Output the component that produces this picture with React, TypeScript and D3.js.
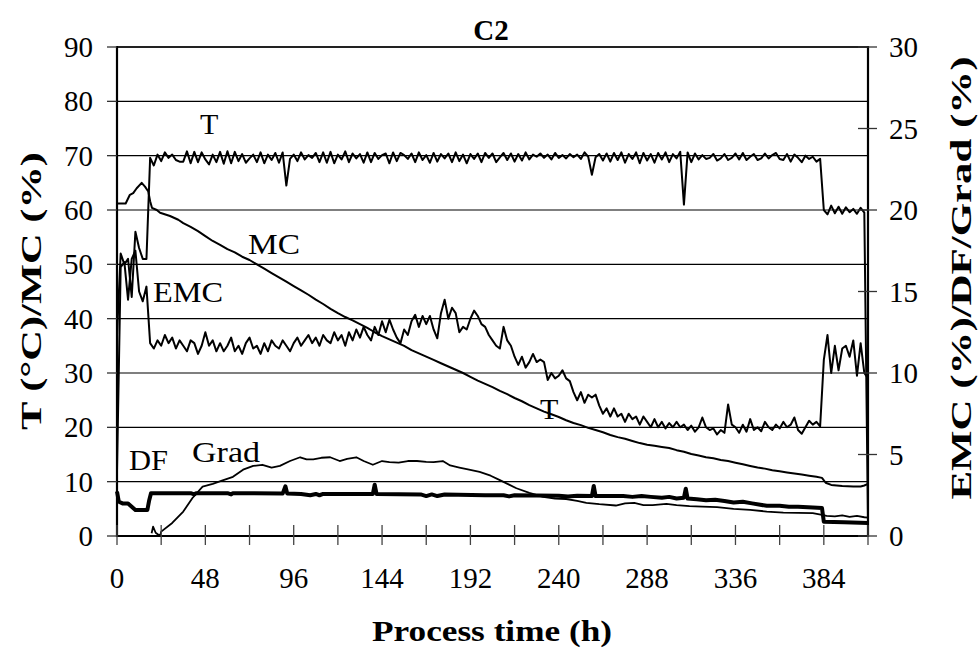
import React from 'react';
import * as d3 from 'd3';

// ---------- data ----------
const X_TICKS = [0, 24, 48, 72, 96, 120, 144, 168, 192, 216, 240, 264, 288, 312, 336, 360, 384, 408];
const X_LABELS = [0, 48, 96, 144, 192, 240, 288, 336, 384];
const LEFT_TICKS = [0, 10, 20, 30, 40, 50, 60, 70, 80, 90];
const RIGHT_TICKS = [0, 5, 10, 15, 20, 25, 30];
const GRID_VALUES = [10, 20, 30, 40, 50, 60, 70, 80];

// sampling interval (h) of the T and EMC records
const SAMPLE_STEP = 2;

// T (°C), left axis, sampled every 2 h from 0 h
const T_VALUES = [
  37, 52, 50, 51, 44, 56, 53, 51, 51, 69.6,
  68.2, 70.2, 69, 70.6, 69.6, 70.2, 69.2, 68.9, 68.9, 70.8,
  68.6, 70.7, 68.8, 70.6, 69.3, 68.4, 70.2, 68.8, 70.7, 68.5,
  70.8, 68.6, 70.7, 69, 70.3, 68.7, 69.5, 70.2, 68.8, 70.6,
  68.6, 70.2, 69.2, 70.5, 68.7, 70.6, 64.5, 69.4, 70.2, 69,
  70.6, 69.3, 70.1, 69.6, 70.5, 68.8, 70.6, 68.7, 70.7, 68.6,
  70.2, 69.3, 70.8, 68.8, 70.4, 69.5, 70.3, 68.7, 70.6, 68.8,
  70.5, 69.4, 70.1, 70.4, 68.6, 70.6, 69, 70.5, 70.1, 69.4,
  70.4, 68.8, 70.6, 69.2, 70.1, 68.7, 70.5, 68.9, 70.3, 69.5,
  70.4, 68.8, 70.6, 69, 70.2, 68.6, 70.3, 69.4, 70.4, 68.8,
  70.5, 69.6, 70.4, 68.8, 69.7, 70.5, 69.2, 70.4, 68.9, 70.3,
  69.1, 70.6, 69.3, 70.2, 69.8, 70.4, 69.6, 70.2, 69.3, 70.5,
  69.6, 70.1, 69.5, 70.3, 69.7, 70.2, 69.4, 70.6, 69.8, 66.5,
  69.7, 70.3, 69.1, 70.4, 68.9, 70.5, 69.2, 70.6, 68.7, 70.3,
  69.4, 70.6, 68.6, 70.5, 69.1, 70.3, 68.7, 70.5, 69.3, 70.6,
  68.8, 70.3, 69.5, 70.7, 61, 70.6, 68.8, 70.4, 69.3, 70.1,
  69.4, 69.6, 70.3, 69.1, 69.5, 70.3, 69.2, 69.6, 70.4, 69.3,
  70.5, 69.2, 69.8, 70.3, 69.2, 69.5, 70.4, 69.5, 70.1, 70.5,
  69.4, 69.2, 70.3, 68.9, 70.2, 69.6, 68.8, 70, 69.4, 69.8,
  68.9, 69.4, 60, 59.2, 60.8, 59.4, 60.6, 59.3, 60.5, 59.6,
  60.2, 59.3, 60.4, 59.5, 2.5,
];

// EMC (%), right axis, sampled every 2 h from 0 h
const EMC_VALUES = [
  4, 16.5, 16.8, 14.5, 17, 17.5, 15, 14.4, 15.3, 11.83,
  11.5, 12, 11.67, 12.33, 11.83, 12.17, 11.5, 12, 11.67, 11.33,
  12, 11.83, 11.17, 11.67, 12.5, 11.67, 12, 11.33, 11.83, 11.33,
  11.67, 12.17, 11.33, 11.67, 11.17, 11.83, 12.17, 11.5, 11.67, 11.17,
  11.83, 11.33, 12, 11.67, 11.5, 12, 11.67, 11.33, 11.83, 12.17,
  11.67, 12, 12.33, 11.83, 12.17, 11.67, 12.33, 12, 11.83, 12.5,
  12, 12.33, 11.67, 12.5, 12, 12.67, 12.17, 12.83, 12.33, 12,
  12.83, 12.33, 13.17, 12.5, 13.27, 12.67, 12.17, 11.83, 12.67, 12.33,
  13.17, 13.57, 12.83, 13.5, 13, 13.5, 12.67, 12.13, 13.67, 14.5,
  13.33, 14, 13.67, 12.5, 12.83, 12.67, 13.33, 13.83, 13.5, 13,
  12.83, 12.33, 12, 11.67, 11.5, 12.83, 12, 11.67, 11, 10.5,
  11, 10.33, 10.67, 11.17, 10.67, 10.83, 10.67, 9.57, 10, 9.67,
  9.83, 10.17, 9.67, 9.5, 8.83, 8.33, 8.83, 8.17, 8.67, 8.5,
  8.67, 8, 7.5, 7.83, 7.33, 7.83, 7.33, 7.5, 7, 7.5,
  7.17, 7.33, 6.83, 7.33, 7, 6.67, 7.17, 6.67, 7, 6.6,
  6.93, 6.67, 7, 6.67, 6.83, 6.5, 6.77, 6.4, 6.67, 7.27,
  6.67, 6.5, 6.6, 6.23, 6.5, 6.33, 8.07, 6.83, 6.67, 6.33,
  6.83, 6.4, 7.17, 6.5, 6.67, 6.43, 7, 6.67, 6.5, 6.83,
  6.6, 7, 6.67, 6.83, 7.27, 6.5, 6.27, 6.67, 7.07, 6.83,
  7, 6.73, 10.8, 12.33, 10, 11.67, 10.17, 11.5, 11.67, 11,
  12, 9.83, 11.83, 10, 9.67,
];

// MC (%), left axis: [time h, value]
const MC_POINTS: [number, number][] = [
  [0, 61.2], [4.7, 61.2], [7, 62.8], [8.8, 63.1], [10.7, 64], [13.4, 65], [15.2, 64.3], [17, 63.4],
  [18, 61.6], [19, 60.4], [21.6, 60], [23.4, 59.5], [28.8, 58.9], [33.3, 58.2], [36, 57.6], [40, 56.9],
  [44, 56.1], [48, 55.2], [52, 54.3], [56, 53.6], [60, 52.8], [64, 52.2], [68, 51.4], [72, 50.8],
  [76, 50], [80, 49.2], [84, 48.4], [88, 47.6], [92, 46.8], [96, 46], [100, 45.2], [104, 44.4],
  [108, 43.5], [112, 42.7], [116, 41.8], [120, 41], [124, 40.3], [128, 39.7], [132, 39], [136, 38.3],
  [140, 37.5], [144, 36.8], [148, 36.2], [152, 35.6], [156, 35], [160, 34.2], [164, 33.6], [168, 33],
  [172, 32.4], [176, 31.8], [180, 31.2], [184, 30.6], [188, 30], [192, 29.3], [196, 28.6], [200, 28],
  [204, 27.4], [208, 26.7], [212, 26.1], [216, 25.4], [220, 24.8], [224, 24.1], [228, 23.5], [232, 22.9],
  [236, 22.4], [240, 21.9], [244, 21.3], [248, 20.8], [252, 20.4], [256, 19.9], [260, 19.5], [264, 19.1],
  [268, 18.6], [272, 18.2], [276, 17.9], [280, 17.5], [284, 17.1], [288, 16.8], [292, 16.6], [296, 16.4],
  [300, 16.2], [304, 15.8], [308, 15.5], [312, 15.1], [316, 14.8], [320, 14.5], [324, 14.3], [328, 14],
  [332, 13.8], [336, 13.5], [340, 13.2], [344, 12.9], [348, 12.6], [352, 12.4], [356, 12.1], [360, 11.9],
  [364, 11.7], [368, 11.5], [372, 11.3], [376, 11.1], [380, 10.9], [383, 10.7], [385, 9.8], [388, 9.4],
  [394, 9.2], [400, 9.1], [404, 9.1], [406, 9.3], [408, 9.6],
];

// Grad (%), right axis: [time h, value]
const GRAD_POINTS: [number, number][] = [
  [18.8, 0.17], [19.6, 0.57], [21, 0.2], [23.4, 0], [24, 0.27], [30, 0.8], [36, 1.5], [41, 2.33],
  [46.5, 3.03], [52, 3.2], [57, 3.4], [63, 3.63], [68.5, 4.07], [74, 4.3], [79, 4.37], [84, 4.2],
  [88.5, 4.3], [94, 4.6], [99.5, 4.83], [103, 4.7], [106.6, 4.7], [111, 4.8], [115.8, 4.83], [121, 4.6],
  [125, 4.73], [130, 4.83], [134, 4.6], [139, 4.37], [144, 4.6], [148, 4.53], [153, 4.5], [158, 4.6],
  [163, 4.6], [168, 4.55], [172, 4.53], [177, 4.6], [181, 4.33], [186, 4.2], [190, 4.1], [197, 3.93],
  [203, 3.7], [208, 3.43], [213, 3.15], [217, 2.93], [224, 2.65], [231.5, 2.4], [238, 2.3], [244, 2.27],
  [250, 2.15], [255, 2.03], [262, 1.95], [271, 1.87], [276, 2.0], [281, 2.03], [286, 1.9], [291, 1.9],
  [298.5, 1.97], [304, 1.9], [311, 1.83], [318, 1.8], [326, 1.77], [335, 1.67], [344, 1.6], [353, 1.5],
  [362, 1.43], [370, 1.42], [378, 1.4], [383, 1.3], [385.5, 1.23], [390, 1.2], [394, 1.27], [398, 1.17],
  [402, 1.23], [406, 1.15], [408, 1.13],
];

// DF, right axis: [time h, value]
const DF_POINTS: [number, number][] = [
  [0, 2.73], [1, 2.1], [3, 2.0], [6, 2.0], [8, 1.8], [10, 1.6], [16.5, 1.6], [17.5, 2.2],
  [18.5, 2.63], [20, 2.63], [40, 2.63], [42, 2.55], [43, 2.63], [60, 2.63], [62, 2.55], [63, 2.63],
  [90, 2.6], [91.5, 3.05], [92.5, 2.6], [100, 2.58], [105, 2.5], [108, 2.58], [110, 2.5], [112, 2.58],
  [139, 2.58], [140, 3.15], [141, 2.58], [165, 2.55], [168, 2.45], [171, 2.55], [174, 2.45], [178, 2.55],
  [200, 2.5], [210, 2.5], [213, 2.43], [216, 2.5], [240, 2.47], [245, 2.42], [250, 2.47], [258, 2.45],
  [259, 3.07], [260, 2.45], [275, 2.45], [280, 2.4], [285, 2.45], [290, 2.4], [296, 2.35], [300, 2.4],
  [304, 2.3], [308, 2.35], [309, 2.9], [310, 2.3], [315, 2.25], [320, 2.2], [325, 2.22], [330, 2.15],
  [335, 2.05], [340, 2.1], [345, 2.0], [353, 1.85], [360, 1.85], [365, 1.8], [370, 1.8], [378, 1.75],
  [383, 1.72], [384, 0.87], [395, 0.85], [408, 0.8],
];

// ---------- chart ----------
const W = 980;
const H = 654;
const FONT = "'Liberation Serif'";

export default function App() {
  const x = d3.scaleLinear().domain([0, 408]).range([117, 868]);
  const yL = d3.scaleLinear().domain([0, 90]).range([536, 47]);
  const yR = d3.scaleLinear().domain([0, 30]).range([536, 47]);

  const sampled = (vals: number[]): [number, number][] =>
    vals.map((v, i) => [i * SAMPLE_STEP, v] as [number, number]);

  const lineL = d3.line<[number, number]>().x((d) => x(d[0])).y((d) => yL(d[1]));
  const lineR = d3.line<[number, number]>().x((d) => x(d[0])).y((d) => yR(d[1]));

  const x0 = x(0);
  const x1 = x(408);
  const yBottom = yL(0);
  const yTop = yL(90);

  const txt = { fontFamily: FONT } as React.CSSProperties;

  return (
    <svg
      width={W}
      height={H}
      viewBox={`0 0 ${W} ${H}`}
      style={{ position: 'absolute', left: 0, top: 0, background: '#fff', fontFamily: FONT }}
    >
      <rect x={0} y={0} width={W} height={H} fill="#fff" />

      {/* gridlines */}
      {GRID_VALUES.map((v) => (
        <line key={'g' + v} x1={x0} x2={x1} y1={yL(v)} y2={yL(v)} stroke="#000" strokeWidth={1.2} />
      ))}
      <line x1={x0} x2={x1} y1={yTop} y2={yTop} stroke="#222" strokeWidth={2} />

      {/* data lines */}
      <path d={lineR(DF_POINTS) || ''} fill="none" stroke="#000" strokeWidth={4} strokeLinejoin="round" />
      <path d={lineR(GRAD_POINTS) || ''} fill="none" stroke="#000" strokeWidth={1.8} strokeLinejoin="round" />
      <path d={lineL(MC_POINTS) || ''} fill="none" stroke="#000" strokeWidth={2} strokeLinejoin="round" />
      <path d={lineR(sampled(EMC_VALUES)) || ''} fill="none" stroke="#000" strokeWidth={2} strokeLinejoin="round" />
      <path d={lineL(sampled(T_VALUES)) || ''} fill="none" stroke="#000" strokeWidth={2} strokeLinejoin="round" />

      {/* axes */}
      <line x1={x0} x2={x0} y1={yTop - 1} y2={yBottom + 1} stroke="#000" strokeWidth={2.2} />
      <line x1={x1} x2={x1} y1={yTop - 1} y2={yBottom + 1} stroke="#000" strokeWidth={2.2} />
      <line x1={x0} x2={x1} y1={yBottom} y2={yBottom} stroke="#000" strokeWidth={2.2} />

      {/* left ticks + labels */}
      {LEFT_TICKS.map((v) => (
        <g key={'l' + v}>
          <line x1={x0 - 10} x2={x0} y1={yL(v)} y2={yL(v)} stroke="#333" strokeWidth={1.3} />
          <text style={txt} x={93} y={yL(v) + 10} textAnchor="end" fontSize={29} fill="#000">
            {v}
          </text>
        </g>
      ))}

      {/* right ticks + labels */}
      {RIGHT_TICKS.map((v) => (
        <g key={'r' + v}>
          <line x1={x1 - 10} x2={x1 + 9} y1={yR(v)} y2={yR(v)} stroke="#333" strokeWidth={1.3} />
          <text style={txt} x={889} y={yR(v) + 10} textAnchor="start" fontSize={29} fill="#000">
            {v}
          </text>
        </g>
      ))}

      {/* bottom ticks + labels */}
      {X_TICKS.map((t) => (
        <line key={'xt' + t} x1={x(t)} x2={x(t)} y1={yBottom - 11} y2={yBottom + 9} stroke="#444" strokeWidth={1.3} />
      ))}
      {X_LABELS.map((t) => (
        <text style={txt} key={'xl' + t} x={x(t)} y={588} textAnchor="middle" fontSize={29} fill="#000">
          {t}
        </text>
      ))}

      {/* series labels */}
      <text style={txt} x={200} y={134} fontSize={30}>T</text>
      <text style={txt} x={248} y={254} fontSize={30} textLength={52} lengthAdjust="spacingAndGlyphs">MC</text>
      <text style={txt} x={153} y={302} fontSize={30} textLength={70} lengthAdjust="spacingAndGlyphs">EMC</text>
      <text style={txt} x={129} y={470} fontSize={30} textLength={39} lengthAdjust="spacingAndGlyphs">DF</text>
      <text style={txt} x={192} y={462} fontSize={30} textLength={68} lengthAdjust="spacingAndGlyphs">Grad</text>
      <text style={txt} x={540} y={419} fontSize={30}>T</text>

      {/* titles */}
      <text style={txt} x={491} y={40} textAnchor="middle" fontSize={29} fontWeight="bold">C2</text>
      <text
        style={txt}
        x={492}
        y={641}
        textAnchor="middle"
        fontSize={29}
        fontWeight="bold"
        textLength={240}
        lengthAdjust="spacingAndGlyphs"
      >
        Process time (h)
      </text>
      <text
        style={txt}
        transform="translate(41,291) rotate(-90)"
        textAnchor="middle"
        fontSize={29}
        fontWeight="bold"
        textLength={278}
        lengthAdjust="spacingAndGlyphs"
      >
        T (°C)/MC (%)
      </text>
      <text
        style={txt}
        transform="translate(971,278) rotate(-90)"
        textAnchor="middle"
        fontSize={29}
        fontWeight="bold"
        textLength={443}
        lengthAdjust="spacingAndGlyphs"
      >
        EMC (%)/DF/Grad (%)
      </text>
    </svg>
  );
}
